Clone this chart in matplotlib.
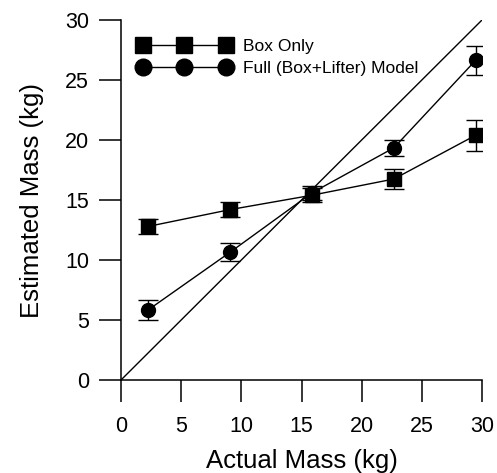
import matplotlib
matplotlib.use("Agg")
import matplotlib.pyplot as plt
from matplotlib.lines import Line2D

plt.rcParams['font.family'] = ['Liberation Sans', 'DejaVu Sans']

actual = [2.27, 9.07, 15.88, 22.68, 29.48]
box_only = [12.8, 14.2, 15.4, 16.75, 20.4]
box_only_err = [0.6, 0.65, 0.6, 0.85, 1.3]
full_model = [5.85, 10.65, 15.6, 19.35, 26.65]
full_model_err = [0.85, 0.75, 0.6, 0.65, 1.2]
identity = [0, 30]
labels = ['Box Only', 'Full (Box+Lifter) Model']

fig = plt.figure(figsize=(4.97, 4.73), dpi=100)
ax = fig.add_axes([121/497, 93/473, 361/497, 360/473])

ax.plot(identity, identity, color='black', lw=1.0)
ax.errorbar(actual, box_only, yerr=box_only_err, color='black', marker='s', ms=10,
            lw=1.0, capsize=7, elinewidth=1.0, capthick=1.0)
ax.errorbar(actual, full_model, yerr=full_model_err, color='black', marker='o', ms=10,
            lw=1.0, capsize=7, elinewidth=1.0, capthick=1.0)

ax.set_xlim(0, 30)
ax.set_ylim(0, 30)
ax.set_xticks([0, 5, 10, 15, 20, 25, 30])
ax.set_yticks([0, 5, 10, 15, 20, 25, 30])
for s in ['top', 'right']:
    ax.spines[s].set_visible(False)
for s in ['left', 'bottom']:
    ax.spines[s].set_linewidth(1.1)
ax.tick_params(direction='out', length=16, width=1.1, labelsize=15.5)
ax.tick_params(axis='x', pad=10)
ax.tick_params(axis='y', pad=7)
ax.set_xlabel('Actual Mass (kg)', fontsize=18.5)
ax.set_ylabel('Estimated Mass (kg)', fontsize=18.5)
ax.xaxis.set_label_coords(0.5, (380 - 449) / 360)
ax.yaxis.set_label_coords((44 - 121) / 361, 0.5)

handles = [Line2D([], [], color='black', lw=1.0, marker='s', ms=12),
           Line2D([], [], color='black', lw=1.0, marker='o', ms=12)]
ax.legend(handles, labels, loc='upper left', bbox_to_anchor=(0.0465, 0.947), frameon=False,
          numpoints=3, handlelength=5.37, handletextpad=0.68, labelspacing=0.37,
          fontsize=12.5, borderaxespad=0, borderpad=0)

fig.savefig('out.png', dpi=100, facecolor='white')
